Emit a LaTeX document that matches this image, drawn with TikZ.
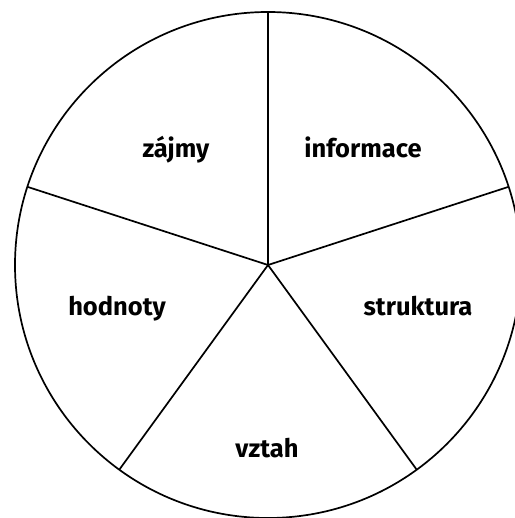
\documentclass[tikz,border=0pt]{standalone}
\usepackage{fontspec}
\setmainfont{Fira Sans}
\usepackage{tikz}

\begin{document}
\begin{tikzpicture}[x=1pt,y=-1pt,
  part/.style={line width=1.7pt},
  lbl/.style={anchor=base,inner sep=0pt,font=\fontsize{25.5}{30}\selectfont\bfseries}]
\useasboundingbox (0,0) rectangle (514,518);
\coordinate (mid) at (268,265);
\draw[part] (mid) circle[radius=253];
% y points down, so the angles run the other way
\foreach \ang in {270,198,126,54,342}
  \draw[part] (mid) -- ++(\ang:253);
\node[lbl] (zajmy) at (176,158) {zájmy};
\node[lbl] (info) at (363,158) {informace};
\node[lbl] (hodn) at (117,315) {hodnoty};
\node[lbl] (strukt) at (418,315) {struktura};
\node[lbl] (vztah) at (267,457) {vztah};
\end{tikzpicture}
\end{document}
